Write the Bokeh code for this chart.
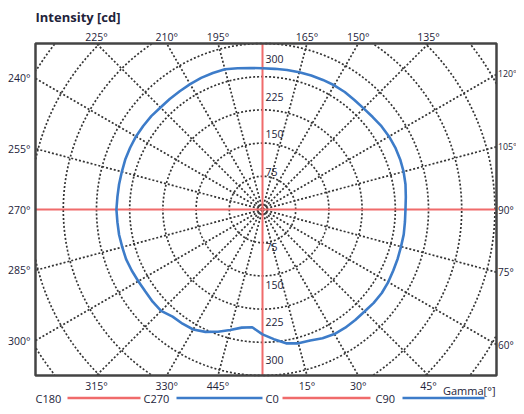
import math
from bokeh.plotting import figure
from bokeh.models import Range1d, LabelSet, Label, ColumnDataSource
from bokeh.core.properties import value
from bokeh.embed import file_html
from bokeh.resources import INLINE

# ---------------- data ----------------
gamma = list(range(0, 181, 5))
# C90 : right half (gamma 0..180)
c90 = [282, 294, 307, 313, 315, 321, 325, 326, 326, 326, 328, 329, 328, 326, 325, 324,
       324, 323, 323, 325, 328, 330, 331, 331, 330, 328, 325, 323, 323, 324, 324, 323,
       322, 321, 320, 319, 319]
# C270 : left half (gamma 0..180)
c270 = [282, 267, 271, 282, 294, 305, 313, 315, 316, 324, 324, 323, 324, 326, 328, 328,
        329, 329, 330, 329, 329, 329, 330, 330, 330, 329, 328, 326, 326, 326, 327, 328,
        328, 328, 324, 321, 319]

ring_values = [75, 150, 225, 300, 375, 450, 525, 600]
ring_label_values = [75, 150, 225, 300]
spoke_angles = list(range(15, 360, 15))
angle_ticks = [15, 30, 45, 60, 75, 90, 105, 120, 135, 150, 165, 195, 210, 225,
               240, 255, 270, 285, 300, 315, 330, 345]
angle_tick_text = ["15°", "30°", "45°", "60°", "75°", "90°", "105°", "120°", "135°",
                   "150°", "165°", "195°", "210°", "225°", "240°", "255°", "270°",
                   "285°", "300°", "315°", "330°", "445°"]
legend_names = ["C180", "C270", "C0", "C90"]

RED = "#f06b6b"
BLUE = "#3d7cc9"
TXT = "#23233a"
GRID = "#333333"
FONT = "Open Sans"

# ---------------- layout (pixel positions -> data units) ----------------
W, H = 516, 406
CX, CY = 262, 209          # pole position on canvas
PX = 75 / 33.2             # cd per pixel

def dx_(px):
    return (px - CX) * PX

def dy_(py):
    return (CY - py) * PX

BX0, BX1 = dx_(35), dx_(496)     # plot box
BY0, BY1 = dy_(375), dy_(43)

p = figure(width=W, height=H, output_backend="svg", toolbar_location=None,
           x_range=Range1d(dx_(0), dx_(W)), y_range=Range1d(dy_(H), dy_(0)),
           x_axis_location=None, y_axis_location=None,
           min_border=0, min_border_left=0, min_border_right=0,
           min_border_top=0, min_border_bottom=0)
p.grid.visible = False
p.outline_line_color = None
p.background_fill_color = "white"
p.border_fill_color = "white"

def inside(x, y):
    return BX0 <= x <= BX1 and BY0 <= y <= BY1

# dotted rings, clipped to the box
for r in ring_values:
    xs, ys = [], []
    for k in range(0, 1441):
        a = math.radians(k * 0.25)
        x, y = r * math.cos(a), r * math.sin(a)
        if inside(x, y):
            xs.append(x); ys.append(y)
        else:
            xs.append(float("nan")); ys.append(float("nan"))
    p.line(xs, ys, line_color=GRID, line_width=1.7, line_dash="2 2")

def box_hit(g):
    a = math.radians(g)
    ddx, ddy = math.sin(a), -math.cos(a)
    tx = (BX1 / ddx) if ddx > 1e-9 else ((BX0 / ddx) if ddx < -1e-9 else 1e9)
    ty = (BY1 / ddy) if ddy > 1e-9 else ((BY0 / ddy) if ddy < -1e-9 else 1e9)
    t = min(tx, ty)
    return t * ddx, t * ddy, ty < tx, ddx, ddy

# dotted spokes
sx1, sy1 = [], []
for g in spoke_angles:
    if g % 90 == 0:
        continue
    hx, hy, _, _, _ = box_hit(g)
    sx1.append(hx); sy1.append(hy)
p.segment(x0=[0] * len(sx1), y0=[0] * len(sx1), x1=sx1, y1=sy1,
          line_color=GRID, line_width=1.7, line_dash="2 2")

# C0 / C180 axes (red)
p.segment(x0=[BX0, 0], y0=[0, BY0], x1=[BX1, 0], y1=[0, BY1], line_color=RED, line_width=2)

# plot box
p.quad(left=[BX0], right=[BX1], bottom=[BY0], top=[BY1], fill_color=None,
       line_color="#444444", line_width=2.5)

# blue curves
def polar(g_list, vals, side):
    xs, ys = [], []
    for g, v in zip(g_list, vals):
        a = math.radians(g)
        xs.append(side * v * math.sin(a))
        ys.append(-v * math.cos(a))
    return xs, ys

x90, y90 = polar(gamma, c90, 1)
x270, y270 = polar(gamma, c270, -1)
p.line(x90, y90, line_color=BLUE, line_width=2.6)
p.line(x270, y270, line_color=BLUE, line_width=2.6)

# ring labels
rl_x, rl_y, rl_t = [], [], []
for v in ring_label_values:
    for s in (1, -1):
        rl_x.append(3 * PX)
        rl_y.append(s * v * 1.13)
        rl_t.append(str(v))
p.add_layout(LabelSet(x="x", y="y", text="t",
                      source=ColumnDataSource(dict(x=rl_x, y=rl_y, t=rl_t)),
                      text_font=value(FONT), text_font_size=value("10.5px"), text_color=TXT,
                      text_baseline="middle", text_align="left"))

# angle labels on the box
ax, ay, at, aal, asz = [], [], [], [], []
for g, t in zip(angle_ticks, angle_tick_text):
    hx, hy, horiz, ddx, ddy = box_hit(g)
    size = "10.5px"
    if horiz:
        hy += (-10 if ddy < 0 else 7) * PX
        align = "center"
    elif ddx > 0:
        hx += 1.5 * PX
        align = "left"
        size = "10px" if len(t) < 4 else "8.8px"
    else:
        hx -= 5 * PX
        align = "right"
    ax.append(hx); ay.append(hy); at.append(t); aal.append(align); asz.append(size)

for al in ("center", "left", "right"):
    idx = [i for i in range(len(at)) if aal[i] == al]
    p.add_layout(LabelSet(x="x", y="y", text="t", text_font_size="s",
                          source=ColumnDataSource(dict(x=[ax[i] for i in idx],
                                                       y=[ay[i] for i in idx],
                                                       t=[at[i] for i in idx],
                                                       s=[asz[i] for i in idx])),
                          text_font=value(FONT), text_color=TXT,
                          text_baseline="middle", text_align=al))

# titles
p.add_layout(Label(x=dx_(35), y=dy_(16), text="Intensity [cd]", text_font=FONT,
                   text_font_size="13px", text_font_style="bold", text_color=TXT,
                   text_baseline="middle", text_align="left"))
p.add_layout(Label(x=dx_(495), y=dy_(390), text="Gamma[°]", text_font=FONT,
                   text_font_size="11px", text_color=TXT, text_baseline="middle", text_align="right"))

# legend (label then line)
leg_y = dy_(397.5)
leg_text_x = [35, 143, 265, 375]
leg_line = [(67, 140), (176, 262), (282, 370), (402, 484)]
leg_colors = [RED, BLUE, RED, BLUE]
for name, tx in zip(legend_names, leg_text_x):
    p.add_layout(Label(x=dx_(tx), y=leg_y, text=name, text_font=FONT,
                       text_font_size="11px", text_color=TXT, text_baseline="middle",
                       text_align="left"))
p.segment(x0=[dx_(a) for a, b in leg_line], y0=[leg_y] * 4,
          x1=[dx_(b) for a, b in leg_line], y1=[leg_y] * 4,
          line_color=leg_colors, line_width=2.5)

open("out.html", "w").write(file_html(p, INLINE))
